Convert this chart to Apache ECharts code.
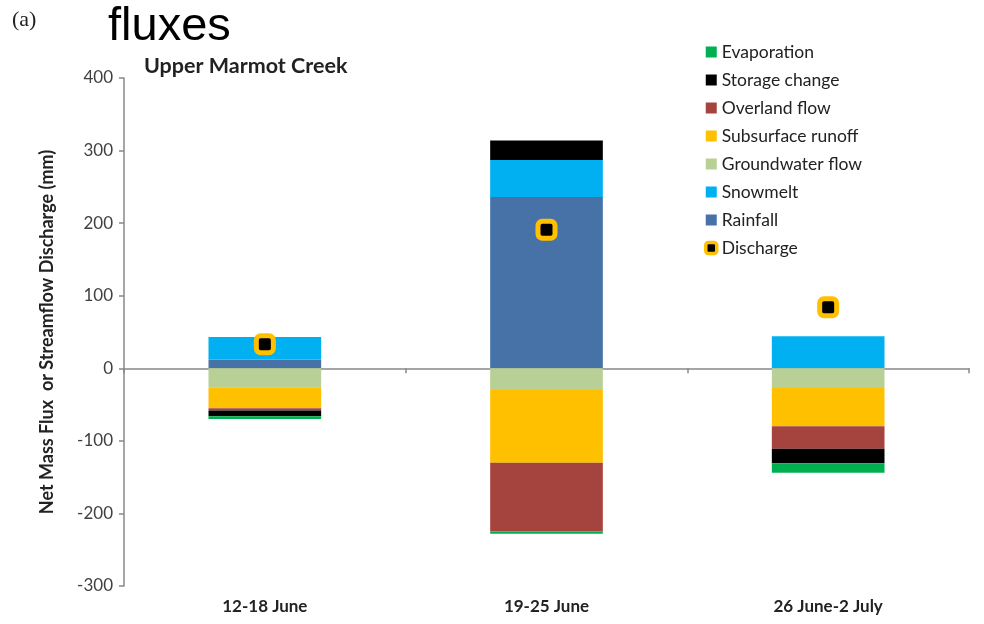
<!DOCTYPE html>
<html>
<head>
<meta charset="utf-8">
<script src="https://cdn.jsdelivr.net/npm/echarts@6/dist/echarts.min.js"></script>
<style>
  html, body { margin: 0; padding: 0; background: #fff; }
  #chart { width: 984px; height: 624px; }
</style>
</head>
<body>
<div id="chart"></div>
<script>
// Weekly water balance components, Upper Marmot Creek (mm)
const periods = ['12-18 June', '19-25 June', '26 June-2 July'];

const rainfall    = [12, 236, 0];
const snowmelt    = [31, 51, 44];
const groundwater = [-26, -30, -27];
const subsurface  = [-29, -100, -53];
const overland    = [-3, -95, -31];
const storage     = [-8, 27, -20];
const evaporation = [-4, -3, -13];
const discharge   = [33, 191, 84];

const yTicks = { min: -300, max: 400, step: 100 };

const colors = {
  Evaporation: '#00b050',
  'Storage change': '#000000',
  'Overland flow': '#a5443f',
  'Subsurface runoff': '#ffc000',
  'Groundwater flow': '#b8cf96',
  Snowmelt: '#00b0f0',
  Rainfall: '#4672a8'
};

const font = 'Lato, "Open Sans", sans-serif';

function barSeries(name, values) {
  return {
    name: name,
    type: 'bar',
    stack: 'flux',
    xAxisIndex: 0,
    barWidth: '40%',
    itemStyle: { color: colors[name] },
    emphasis: { disabled: true },
    data: values
  };
}

const chart = echarts.init(document.getElementById('chart'), null, { renderer: 'canvas' });

chart.setOption({
  animation: false,
  backgroundColor: '#ffffff',
  graphic: [
    { type: 'text', left: 12, top: 9,
      style: { text: '(a)', font: '22px "Liberation Serif", "DejaVu Serif", serif', fill: '#222' } },
    { type: 'text', left: 108, top: 4,
      style: { text: 'fluxes', font: '47px "Liberation Sans", Arial, sans-serif', fill: '#000' } }
  ],
  title: {
    text: 'Upper Marmot Creek',
    left: 139, top: 50,
    textStyle: { fontFamily: font, fontWeight: 'bold', fontSize: 21.5, color: '#222' }
  },
  legend: {
    orient: 'vertical',
    left: 699, top: 38,
    itemWidth: 11, itemHeight: 11,
    itemGap: 10,
    selectedMode: false,
    textStyle: { fontFamily: font, fontSize: 17.5, color: '#222' },
    data: [
      { name: 'Evaporation', icon: 'rect' },
      { name: 'Storage change', icon: 'rect' },
      { name: 'Overland flow', icon: 'rect' },
      { name: 'Subsurface runoff', icon: 'rect' },
      { name: 'Groundwater flow', icon: 'rect' },
      { name: 'Snowmelt', icon: 'rect' },
      { name: 'Rainfall', icon: 'rect' },
      { name: 'Discharge', icon: 'roundRect',
        itemStyle: { color: '#000', borderColor: '#ffc000', borderWidth: 3.5, opacity: 1 } }
    ]
  },
  grid: { left: 124, right: 15, top: 78, bottom: 38, containLabel: false },
  xAxis: [
    {
      type: 'category',
      data: periods,
      axisLine: { onZero: true, lineStyle: { color: '#888', width: 1.5 } },
      axisTick: { show: true, alignWithLabel: false, length: 5, lineStyle: { color: '#888', width: 1.5 } },
      axisLabel: { show: false },
      splitLine: { show: false }
    },
    {
      type: 'category',
      data: periods,
      position: 'bottom',
      axisLine: { show: false, onZero: false },
      axisTick: { show: false },
      axisLabel: { margin: 12, fontFamily: font, fontWeight: 'bold', fontSize: 17, color: '#222' },
      splitLine: { show: false }
    }
  ],
  yAxis: {
    type: 'value',
    min: yTicks.min, max: yTicks.max, interval: yTicks.step,
    name: 'Net Mass Flux  or Streamflow Discharge (mm)',
    nameLocation: 'middle',
    nameRotate: 90,
    nameGap: 68,
    nameTextStyle: { fontFamily: font, fontWeight: 'bold', fontSize: 18, color: '#222' },
    axisLine: { show: true, lineStyle: { color: '#888', width: 1.5 } },
    axisTick: { show: true, length: 5, lineStyle: { color: '#888', width: 1.5 } },
    axisLabel: { margin: 11, fontFamily: font, fontSize: 17, color: '#404040' },
    splitLine: { show: false }
  },
  series: [
    barSeries('Rainfall', rainfall),
    barSeries('Snowmelt', snowmelt),
    barSeries('Groundwater flow', groundwater),
    barSeries('Subsurface runoff', subsurface),
    barSeries('Overland flow', overland),
    barSeries('Storage change', storage),
    barSeries('Evaporation', evaporation),
    {
      name: 'Discharge',
      type: 'scatter',
      xAxisIndex: 0,
      symbol: 'roundRect',
      symbolSize: 17,
      z: 5,
      itemStyle: { color: '#000', borderColor: '#ffc000', borderWidth: 5, opacity: 1 },
      emphasis: { disabled: true },
      data: discharge
    }
  ]
});
</script>
</body>
</html>
